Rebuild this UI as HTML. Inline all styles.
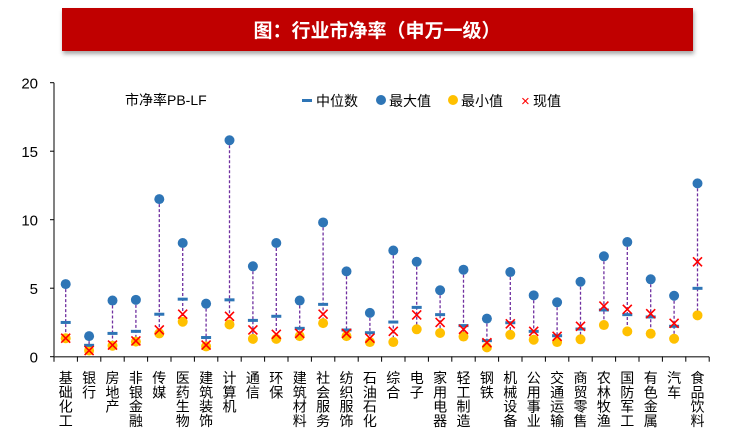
<!DOCTYPE html>
<html><head><meta charset="utf-8">
<style>
body{margin:0;background:#fff;}
svg{display:block;font-family:"Liberation Sans","Noto Sans CJK SC",sans-serif;}
</style></head>
<body>
<svg id="chart" width="753" height="429">
  <defs><filter id="sh" x="-5%" y="-20%" width="110%" height="150%"><feDropShadow dx="1" dy="3" stdDeviation="2" flood-color="#000" flood-opacity="0.35"/></filter></defs>
  <rect x="62" y="8" width="631" height="43" fill="#c00000" filter="url(#sh)"/>
  <text x="377" y="37" text-anchor="middle" fill="#fff" font-size="19" font-weight="bold">图：行业市净率（申万一级）</text>
  <text x="125" y="105" font-size="14" fill="#000">市净率PB-LF</text>
  <g>
    <rect x="302" y="99" width="10" height="3" fill="#2e75b6"/>
    <text x="316" y="106" font-size="14">中位数</text>
    <circle cx="381" cy="100" r="5" fill="#2e75b6"/>
    <text x="389" y="106" font-size="14">最大值</text>
    <circle cx="453" cy="100" r="5" fill="#ffc000"/>
    <text x="461" y="106" font-size="14">最小值</text>
    <text x="521" y="106" font-size="15" fill="#ff0000">×</text>
    <text x="533" y="106" font-size="14">现值</text>
  </g>
  <g id="axes"></g>
  <g id="marks"></g>
</svg>
<script>
const categories=["基础化工","银行","房地产","非银金融","传媒","医药生物","建筑装饰","计算机","通信","环保","建筑材料","社会服务","纺织服饰","石油石化","综合","电子","家用电器","轻工制造","钢铁","机械设备","公用事业","交通运输","商贸零售","农林牧渔","国防军工","有色金属","汽车","食品饮料"];
const maxVals=[5.3,1.5,4.1,4.15,11.5,8.3,3.87,15.8,6.6,8.3,4.1,9.8,6.23,3.2,7.75,6.93,4.85,6.35,2.78,6.18,4.48,3.97,5.47,7.33,8.37,5.65,4.45,12.65];
const medVals=[2.5,0.83,1.7,1.85,3.1,4.2,1.4,4.15,2.65,2.95,2.07,3.82,1.95,1.75,2.53,3.6,3.07,2.27,1.17,2.48,1.85,1.53,2.02,3.41,3.07,2.9,2.22,4.99];
const minVals=[1.35,0.45,0.8,1.1,1.7,2.55,0.75,2.35,1.3,1.3,1.5,2.45,1.5,1.07,1.07,2.0,1.73,1.47,0.68,1.6,1.24,1.07,1.27,2.31,1.85,1.68,1.31,3.02];
const curVals=[1.35,0.45,0.85,1.15,1.95,3.1,0.85,2.95,1.95,1.63,1.7,3.1,1.7,1.35,1.85,3.05,2.5,2.0,1.02,2.4,1.85,1.49,2.22,3.7,3.46,3.14,2.44,6.93];
const yTicks=[0,5,10,15,20];
const NS="http://www.w3.org/2000/svg";
const y0=356.7,pxPerUnit=13.7,x0=65.7,step=23.4,axisL=54,axisR=709;
function yS(v){return y0-v*pxPerUnit;}
function xS(i){return x0+i*step;}
function mk(tag,attrs,parent){const e=document.createElementNS(NS,tag);for(const k in attrs)e.setAttribute(k,attrs[k]);parent.appendChild(e);return e;}
const axes=document.getElementById('axes'),marks=document.getElementById('marks');
let e=mk('line',{x1:axisL,x2:axisL,y1:yS(20),y2:y0,stroke:'#000','stroke-width':1},axes);


e=mk('line',{x1:axisL,x2:axisR,y1:y0,y2:y0,stroke:'#555','stroke-width':1.5},axes);


yTicks.forEach(t=>{
  const l=mk('line',{x1:axisL-4,x2:axisL,y1:yS(t),y2:yS(t),stroke:'#000'},axes);
  
  
  const tx=mk('text',{x:38,y:yS(t)+6,'text-anchor':'end','font-size':15},axes);
  tx.textContent=t;
  
  
});
for(let i=0;i<=categories.length;i++){
  const xx=xS(i)-step/2;
  const l=mk('line',{x1:xx,x2:xx,y1:y0,y2:y0+5,stroke:'#000'},axes);
  
  
}
categories.forEach((c,i)=>{
  const x=xS(i);
  const g=mk('g',{},marks);
  
  
  const ln=mk('line',{x1:x,x2:x,y1:yS(maxVals[i]),y2:yS(minVals[i]),stroke:'#7030a0','stroke-width':1.3,'stroke-dasharray':'3,2'},g);
  
  
  const mn=mk('circle',{cx:x,cy:yS(minVals[i]),r:5,fill:'#ffc000'},g);
  
  
  const mx=mk('circle',{cx:x,cy:yS(maxVals[i]),r:5,fill:'#2e75b6'},g);
  
  
  const md=mk('rect',{x:x-5,y:yS(medVals[i])-1.5,width:10,height:3,fill:'#2e75b6'},g);
  
  
  const cy=yS(curVals[i]);
  const cp=mk('path',{d:`M${x-4.5},${cy-4.5}L${x+4.5},${cy+4.5}M${x+4.5},${cy-4.5}L${x-4.5},${cy+4.5}`,stroke:'#ff0000','stroke-width':1.6,fill:'none'},g);
  
  
  [...c].forEach((ch,k)=>{
    const t=mk('text',{x:x,y:383+k*14.3,'text-anchor':'middle','font-size':14},g);
    t.textContent=ch;
    
    
  });
});
</script>
</body></html>
